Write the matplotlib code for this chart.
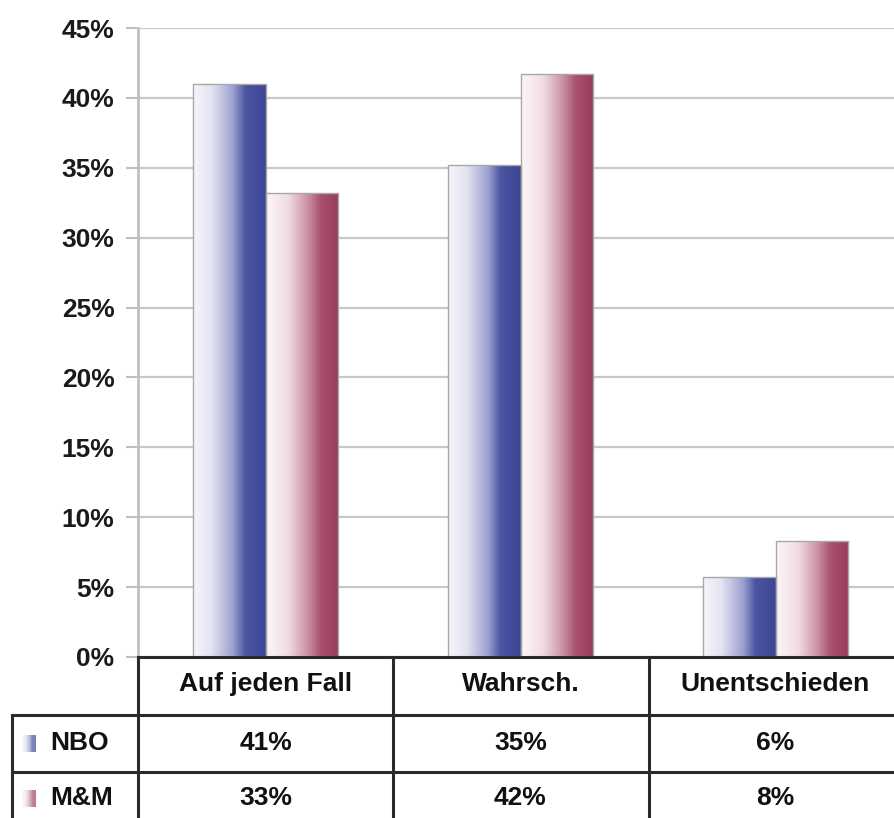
import matplotlib
matplotlib.use("Agg")
import matplotlib.pyplot as plt
import numpy as np
from matplotlib.colors import LinearSegmentedColormap
from matplotlib.transforms import blended_transform_factory

# data (percent)
categories = ["Auf jeden Fall", "Wahrsch.", "Unentschieden"]
series = ["NBO", "M&M"]
nbo = [41.0, 35.2, 5.7]
mm = [33.2, 41.7, 8.3]
yticks = [0, 5, 10, 15, 20, 25, 30, 35, 40, 45]

plt.rcParams["font.family"] = ["Liberation Sans", "DejaVu Sans"]
plt.rcParams["font.weight"] = "bold"

cmaps = {
    "NBO": LinearSegmentedColormap.from_list("nbo", [(0, "#f6f6fc"), (0.25, "#e4e4f2"),
                                                     (0.55, "#9da0cf"), (0.72, "#4b55a2"),
                                                     (1, "#3c4695")]),
    "M&M": LinearSegmentedColormap.from_list("mm", [(0, "#fcf6f8"), (0.3, "#f1dde4"),
                                                    (0.58, "#c98fa3"), (0.75, "#a9516e"),
                                                    (1, "#9a3b5b")]),
}

W, H = 894, 818
fig = plt.figure(figsize=(W / 100, H / 100), dpi=100)
ax = fig.add_axes([138 / W, (H - 657) / H, 765 / W, (657 - 28) / H])

x = np.arange(len(categories))
bw = 0.285
grad = np.linspace(0, 1, 256).reshape(1, -1)
for vals, off, name in [(nbo, -bw / 2, "NBO"), (mm, bw / 2, "M&M")]:
    bars = ax.bar(x + off, vals, bw, color="none", edgecolor="#a8a8a8", lw=1.0, zorder=3)
    for b in bars:
        im = ax.imshow(grad, cmap=cmaps[name], aspect="auto", zorder=2.5,
                       extent=[b.get_x(), b.get_x() + b.get_width(), 0, b.get_height()])
        im.set_clip_path(b)

ax.set_xlim(-0.5, len(categories) - 0.5)
ax.set_ylim(0, 45)
ax.set_yticks(yticks)
ax.set_yticklabels([f"{t}%" for t in yticks], fontsize=19, fontweight="bold", color="#1a1a1a")
ax.set_xticks([])
ax.tick_params(axis="y", length=9, width=1.5, color="#c0c0c0", pad=8)
ax.grid(axis="y", color="#c8c8c8", lw=1.6, zorder=0)
for s in ["top", "right", "bottom"]:
    ax.spines[s].set_visible(False)
ax.spines["left"].set_color("#c0c0c0")
ax.spines["left"].set_linewidth(2)

# data table under the plot, in pixel coordinates
tab = fig.add_axes([0, 0, 1, 1], zorder=5)
tab.set_xlim(0, W)
tab.set_ylim(H, 0)
tab.axis("off")
tab.patch.set_alpha(0)
lc = "#2a2a2a"
tab.plot([138, W], [657, 657], color=lc, lw=2.2)
tab.plot([12, W], [715, 715], color=lc, lw=2.2)
tab.plot([12, W], [772, 772], color=lc, lw=2.2)
for xv in [138, 393, 649]:
    tab.plot([xv, xv], [657, H], color=lc, lw=2.2)
tab.plot([12, 12], [715, H], color=lc, lw=2.2)

tr = blended_transform_factory(ax.transData, tab.transData)
for i, c in enumerate(categories):
    tab.text(x[i], 684, c, transform=tr, ha="center", va="center", fontsize=19,
             fontweight="bold", color="#111111")
    tab.text(x[i], 743, f"{nbo[i]:.0f}%", transform=tr, ha="center", va="center",
             fontsize=19, fontweight="bold", color="#111111")
    tab.text(x[i], 798, f"{mm[i]:.0f}%", transform=tr, ha="center", va="center",
             fontsize=19, fontweight="bold", color="#111111")

for name, yc in [("NBO", 743), ("M&M", 798)]:
    tab.imshow(grad, cmap=cmaps[name], aspect="auto", alpha=0.7,
               extent=[22, 36, yc + 9, yc - 8])
    tab.text(50, yc, name, ha="left", va="center", fontsize=19, fontweight="bold",
             color="#111111")
tab.set_xlim(0, W)
tab.set_ylim(H, 0)

fig.savefig("out.png", dpi=100)
